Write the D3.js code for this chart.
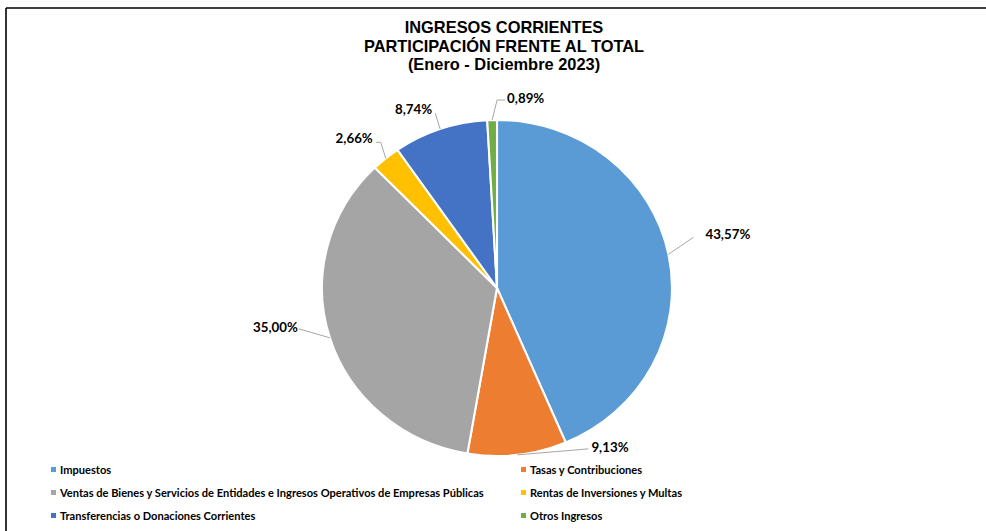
<!DOCTYPE html>
<html>
<head>
<meta charset="utf-8">
<script src="https://cdn.jsdelivr.net/npm/d3@7"></script>
<style>
  html, body { margin: 0; padding: 0; background: #fff; }
  svg { display: block; }
</style>
</head>
<body>
<svg id="chart" width="986" height="531"></svg>
<script>
// ---- Data ----
const categories = [
  "Impuestos",
  "Tasas y Contribuciones",
  "Ventas de Bienes y Servicios de Entidades e Ingresos Operativos de Empresas Públicas",
  "Rentas de Inversiones y Multas",
  "Transferencias o Donaciones Corrientes",
  "Otros Ingresos"
];
const values = [43.57, 9.13, 35.00, 2.66, 8.74, 0.89];
const valueLabels = ["43,57%", "9,13%", "35,00%", "2,66%", "8,74%", "0,89%"];
const titleLines = ["INGRESOS CORRIENTES", "PARTICIPACIÓN FRENTE AL TOTAL", "(Enero - Diciembre 2023)"];

// ---- Style / layout ----
const colors = ["#5B9BD5", "#ED7D31", "#A5A5A5", "#FFC000", "#4472C4", "#70AD47"];
// leader line layout: elbow offset and label offset relative to the slice anchor
const leaderLayout = [
  {elbow: [25, -17], text: [37, -20], anchor: "start"},
  {elbow: [71, -6],  text: [74, -8],  anchor: "start"},
  {elbow: [-31, -9], text: [-32, -10], anchor: "end"},
  {elbow: [-5, -16], text: [-13, -20], anchor: "end", mid: [-10, -16]},
  {elbow: [-5, -16], text: [-8, -20], anchor: "end"},
  {elbow: [5, -20],  text: [15, -22], anchor: "start", mid: [13, -20]}
];

const svg = d3.select("#chart");
const W = 986, H = 531;

// frame lines
svg.append("line").attr("x1", 6).attr("y1", 8).attr("x2", W).attr("y2", 8)
  .attr("stroke", "#000").attr("stroke-width", 1.6);
svg.append("line").attr("x1", 6).attr("y1", 8).attr("x2", 6).attr("y2", H)
  .attr("stroke", "#000").attr("stroke-width", 1.6);

// title
const title = svg.append("text")
  .attr("text-anchor", "middle")
  .attr("font-family", "'Liberation Sans', Arial, sans-serif")
  .attr("font-weight", "bold")
  .attr("font-size", 16.4)
  .attr("fill", "#000");
titleLines.forEach((t, i) => {
  title.append("tspan").attr("x", 504).attr("y", 33 + i * 18.5).text(t);
});

// pie
const cx = 497, cy = 288, rx = 175, ry = 168;
const pie = d3.pie().sort(null).value(d => d)(values);
const arc = d3.arc().innerRadius(0).outerRadius(ry);

const g = svg.append("g").attr("transform", `translate(${cx},${cy}) scale(${rx / ry},1)`);
g.selectAll("path.slice").data(pie).join("path")
  .attr("class", "slice")
  .attr("d", arc)
  .attr("fill", (d, i) => colors[i])
  .attr("stroke", "#fff")
  .attr("stroke-width", 2);

// labels + leader lines
const labelG = svg.append("g");
pie.forEach((d, i) => {
  const a = (d.startAngle + d.endAngle) / 2;
  const ax = cx + Math.sin(a) * rx;
  const ay = cy - Math.cos(a) * ry;
  const L = leaderLayout[i];
  const pts = [[ax, ay], [ax + L.elbow[0], ay + L.elbow[1]]];
  if (L.mid) pts.push([ax + L.mid[0], ay + L.mid[1]]);
  labelG.append("path")
    .attr("d", d3.line()(pts))
    .attr("fill", "none")
    .attr("stroke", "#A6A6A6")
    .attr("stroke-width", 1);
  labelG.append("text")
    .attr("x", ax + L.text[0])
    .attr("y", ay + L.text[1])
    .attr("dy", "0.35em")
    .attr("text-anchor", L.anchor)
    .attr("font-family", "Lato, 'Open Sans', sans-serif")
    .attr("font-weight", "bold")
    .attr("font-size", 13.3)
    .attr("fill", "#000")
    .text(valueLabels[i]);
});

// legend (2 columns, 3 rows)
const legend = svg.append("g");
const colX = [51, 521], rowY = [470, 493, 516];
categories.forEach((c, i) => {
  const x = colX[i % 2], y = rowY[Math.floor(i / 2)];
  legend.append("rect").attr("x", x).attr("y", y - 3).attr("width", 5).attr("height", 5)
    .attr("fill", colors[i]);
  legend.append("text")
    .attr("x", x + 9).attr("y", y).attr("dy", "0.35em")
    .attr("font-family", "Lato, 'Open Sans', sans-serif")
    .attr("font-weight", "bold")
    .attr("font-size", 11.1)
    .attr("fill", "#000")
    .text(c);
});
</script>
</body>
</html>
